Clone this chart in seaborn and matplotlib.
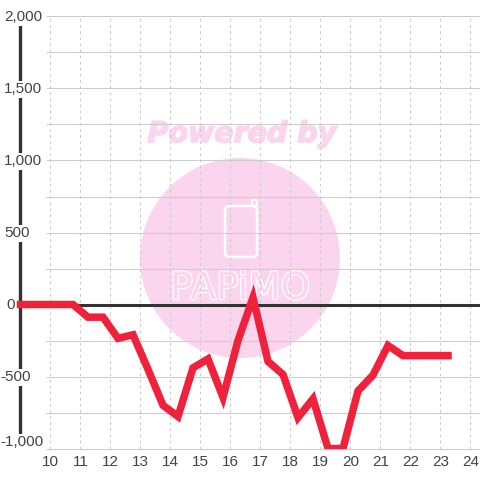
import matplotlib
matplotlib.use('Agg')
import pandas as pd
import seaborn as sns
from matplotlib import pyplot as plt
from matplotlib.patches import Circle, FancyBboxPatch
import matplotlib.patheffects as pe

# data
hours = [9, 10.75, 11.25, 11.75, 12.25, 12.75, 13.25, 13.75, 14.25, 14.75, 15.25, 15.75,
         16.25, 16.75, 17.25, 17.75, 18.25, 18.75, 19.25, 19.75, 20.25, 20.75, 21.25,
         21.75, 22.25, 22.75, 23.25]
values = [0, 0, -88, -88, -235, -210, -450, -700, -778, -440, -378, -645,
          -250, 48, -395, -486, -785, -655, -1000, -1000, -600, -490, -285,
          -355, -355, -355, -355]
x_ticks = list(range(10, 25))
y_ticks = [-1000, -750, -500, -250, 0, 250, 500, 750, 1000, 1250, 1500, 1750, 2000]
y_labels = {2000: '2,000', 1500: '1,500', 1000: '1,000', 500: '500', 0: '0', -500: '-500', -1000: '-1,000'}

df = pd.DataFrame({'hour': hours, 'value': values})

sns.set_theme(style='white')
plt.rcParams['font.family'] = ['Liberation Sans', 'DejaVu Sans']

fig = plt.figure(figsize=(4.8, 4.8), dpi=100)
# half pixel offset keeps the 1px grid lines crisp
ax = fig.add_axes([0, 31.5 / 480, 1, 432 / 480])
ax.patch.set_visible(False)
for s in ax.spines.values():
    s.set_visible(False)

# watermark behind the axes
pink = '#fbd5ee'
fig.patches.append(Circle((240 / 480, 1 - 258 / 480), 100 / 480, color=pink, transform=fig.transFigure, lw=0, zorder=-3))
fig.patches.append(FancyBboxPatch((225 / 480, 1 - 257 / 480), 32 / 480, 51 / 480,
                                  boxstyle='round,pad=0,rounding_size=0.01', fc='none', ec='white', lw=1.8,
                                  transform=fig.transFigure, zorder=-2))
fig.patches.append(FancyBboxPatch((252 / 480, 1 - 206 / 480), 5 / 480, 6 / 480,
                                  boxstyle='round,pad=0,rounding_size=0.004', fc=pink, ec='white', lw=1.6,
                                  transform=fig.transFigure, zorder=-2))
fig.text(242 / 480, 1 - 134 / 480, 'Powered by', color=pink, fontsize=20.5, fontweight='bold', style='italic',
         family='DejaVu Sans', ha='center', va='center', zorder=-2,
         path_effects=[pe.withStroke(linewidth=1.2, foreground=pink)])
fig.text(240 / 480, 1 - 289 / 480, 'PAPiMO', color=pink, fontsize=27, family='Liberation Sans Narrow',
         ha='center', va='center', zorder=-2, path_effects=[pe.withStroke(linewidth=1.8, foreground='white')])

ax.set_xlim(8.317, 24.317)
ax.set_ylim(-1000, 2000)

# grid
ax.hlines(y_ticks, 9.85, 24.317, color='#cccccc', lw=0.75, clip_on=False, zorder=1)
ax.vlines(x_ticks, -1000, 2000, color='#cccccc', lw=0.8, linestyles=(0, (2.5, 3)), zorder=1)
ax.hlines(0, 9, 24.317, color='#333333', lw=2.2, zorder=2)
ax.vlines(9, -1000, 2000, color='#333333', lw=2.4, zorder=2)

sns.lineplot(data=df, x='hour', y='value', color='#f0213a', lw=5.4, ax=ax, zorder=3,
             solid_joinstyle='miter', solid_capstyle='projecting', estimator=None, sort=False)

ax.set_xlabel('')
ax.set_ylabel('')
ax.set_xticks(x_ticks)
ax.set_yticks([])
ax.tick_params(axis='x', length=0, pad=5, labelsize=11, labelcolor='#444444')

for v, lab in y_labels.items():
    ax.text(8.45 if v > -500 and v != 0 else (8.52 if v == 0 else 8.33), v - 6, lab, color='#444444', fontsize=11,
            va='bottom' if v == -1000 else 'center', ha='left', zorder=4, clip_on=False,
            bbox=dict(fc='white', ec='none', pad=1))

fig.savefig('out.png', dpi=100, facecolor='white')
